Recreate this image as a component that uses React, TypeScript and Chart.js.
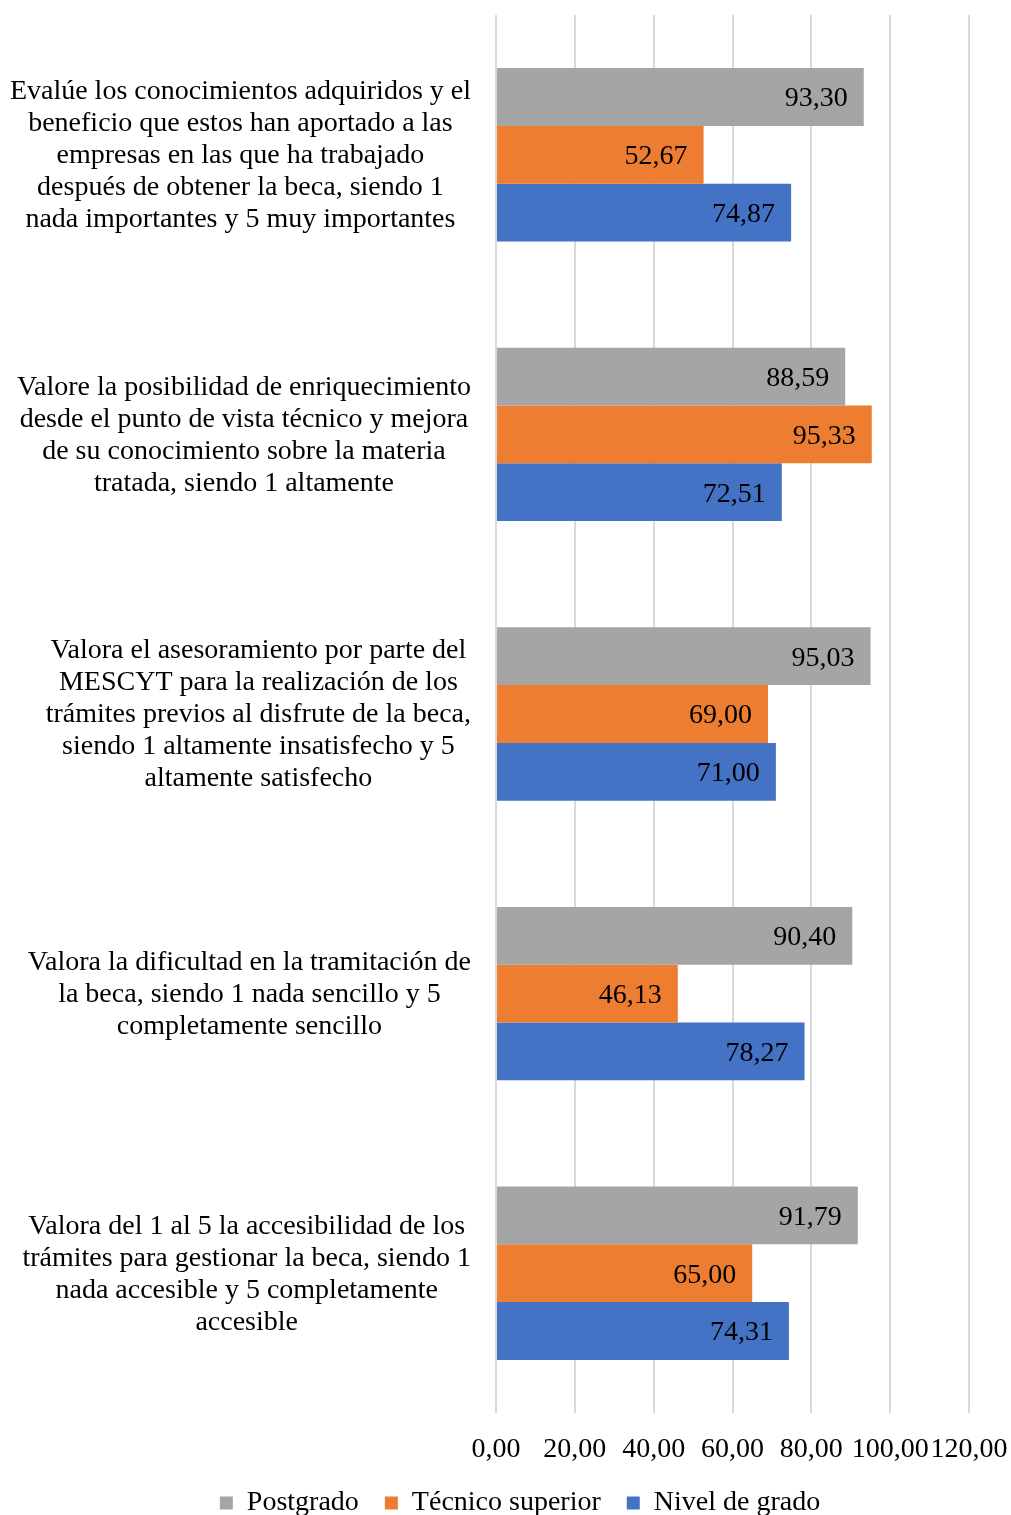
import React, { useEffect, useRef } from "react";
import { Chart, registerables } from "chart.js";

Chart.register(...registerables);

const categories: string[][] = [
  [
    "Evalúe los conocimientos adquiridos y el",
    "beneficio que estos han aportado a las",
    "empresas en las que ha trabajado",
    "después de obtener la beca, siendo 1",
    "nada importantes y 5 muy importantes",
  ],
  [
    "Valore la posibilidad de enriquecimiento",
    "desde el punto de vista técnico y mejora",
    "de su conocimiento sobre la materia",
    "tratada, siendo 1 altamente",
  ],
  [
    "Valora el asesoramiento por parte del",
    "MESCYT para la realización de los",
    "trámites previos al disfrute de la beca,",
    "siendo 1 altamente insatisfecho y 5",
    "altamente satisfecho",
  ],
  [
    "Valora la dificultad en la tramitación de",
    "la beca, siendo 1 nada sencillo y 5",
    "completamente sencillo",
  ],
  [
    "Valora del 1 al 5 la accesibilidad de los",
    "trámites para gestionar la beca, siendo 1",
    "nada accesible y 5 completamente",
    "accesible",
  ],
];

const seriesNames = ["Postgrado", "Técnico superior", "Nivel de grado"];
const postgrado = [93.3, 88.59, 95.03, 90.4, 91.79];
const tecnicoSuperior = [52.67, 95.33, 69.0, 46.13, 65.0];
const nivelDeGrado = [74.87, 72.51, 71.0, 78.27, 74.31];
const seriesColors = ["#A5A5A5", "#ED7D31", "#4472C4"];

const xMin = 0;
const xMax = 120;
const xStep = 20;

const FONT = "'Liberation Serif', 'Times New Roman', serif";
const FS = 28;
const fmt = (v: number) => v.toFixed(2).replace(".", ",");

const yLabelPlugin = {
  id: "yLabelsBlock",
  afterDraw(chart: any) {
    const ctx = chart.ctx;
    const y = chart.scales.y;
    ctx.save();
    ctx.font = `${FS}px ${FONT}`;
    ctx.fillStyle = "#000";
    ctx.textAlign = "center";
    ctx.textBaseline = "middle";
    (chart.data.labels as string[][]).forEach((lines, i) => {
      const widest = Math.max(...lines.map((l) => ctx.measureText(l).width));
      const cx = y.right - 25 - widest / 2;
      const cy = y.getPixelForTick(i) + 1;
      lines.forEach((l, j) => {
        ctx.fillText(l, cx, cy + (j - (lines.length - 1) / 2) * 32);
      });
    });
    ctx.restore();
  },
};

const dataLabelPlugin = {
  id: "barValueLabels",
  afterDatasetsDraw(chart: any) {
    const ctx = chart.ctx;
    ctx.save();
    ctx.font = `${FS}px ${FONT}`;
    ctx.fillStyle = "#000";
    ctx.textAlign = "right";
    ctx.textBaseline = "middle";
    chart.data.datasets.forEach((ds: any, di: number) => {
      const meta = chart.getDatasetMeta(di);
      meta.data.forEach((bar: any, i: number) => {
        ctx.fillText(fmt(ds.data[i]), bar.x - 16, bar.y + 2);
      });
    });
    ctx.restore();
  },
};

export default function App() {
  const ref = useRef<HTMLCanvasElement>(null);

  useEffect(() => {
    if (!ref.current) return;
    const chart = new Chart(ref.current, {
      type: "bar",
      data: {
        labels: categories,
        datasets: [
          { label: seriesNames[0], data: postgrado, backgroundColor: seriesColors[0] },
          { label: seriesNames[1], data: tecnicoSuperior, backgroundColor: seriesColors[1] },
          { label: seriesNames[2], data: nivelDeGrado, backgroundColor: seriesColors[2] },
        ],
      },
      options: {
        indexAxis: "y",
        animation: false,
        responsive: true,
        maintainAspectRatio: false,
        datasets: { bar: { categoryPercentage: 0.62, barPercentage: 1.0 } },
        layout: { padding: { top: 15, left: 29, right: 0, bottom: 0 } },
        scales: {
          x: {
            min: xMin,
            max: xMax,
            ticks: {
              stepSize: xStep,
              callback: (v: any) => fmt(Number(v)),
              font: { family: FONT, size: FS },
              color: "#000",
              padding: 20,
              maxRotation: 0,
              minRotation: 0,
              autoSkip: false,
            },
            grid: { color: "#d9d9d9", lineWidth: 2, drawTicks: false },
            border: { display: false },
            afterFit: (s: any) => {
              s.height = 50;
              s.paddingRight = 42;
              s.paddingLeft = 0;
            },
          },
          y: {
            ticks: { display: false },
            grid: { display: false },
            border: { display: false },
            afterFit: (s: any) => {
              s.width = 467;
            },
          },
        },
        plugins: {
          legend: {
            position: "bottom",
            labels: {
              font: { family: FONT, size: FS },
              color: "#000",
              boxWidth: 13,
              boxHeight: 13,
              padding: 26,
            },
          },
          tooltip: { enabled: false },
        },
      },
      plugins: [yLabelPlugin, dataLabelPlugin],
    });
    return () => chart.destroy();
  }, []);

  return (
    <div style={{ position: "absolute", left: 0, top: 0, width: 1011, height: 1515, overflow: "hidden" }}>
      <div style={{ position: "relative", width: 1011, height: 1527 }}>
        <canvas ref={ref} />
      </div>
    </div>
  );
}
